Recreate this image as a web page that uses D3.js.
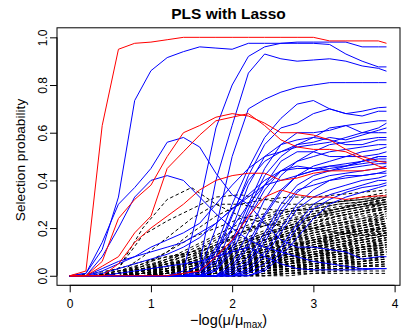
<!DOCTYPE html>
<html>
<head>
<meta charset="utf-8">
<script src="https://cdn.jsdelivr.net/npm/d3@7"></script>
<style>
  body { margin: 0; background: #fff; }
  svg { display: block; font-family: "Liberation Sans", Arial, sans-serif; }
</style>
</head>
<body>
<script>
// x grid of the paths (-log(mu/mu_max))
const lambda = [0, 0.2, 0.4, 0.6, 0.8, 1.0, 1.2, 1.4, 1.6, 1.8, 2.0, 2.2, 2.4, 2.6, 2.8, 3.0, 3.2, 3.4, 3.6, 3.8, 3.9];
// coarser grid for the noise variables (dashed)
const lambdaNoise = [0, 0.3, 0.6, 0.9, 1.2, 1.5, 1.8, 2.1, 2.4, 2.7, 3.0, 3.3, 3.6, 3.9];

const xTicks = [0, 1, 2, 3, 4];
const yTicks = [0, 0.2, 0.4, 0.6, 0.8, 1.0];

// red paths (on lambda grid)
const redPaths = [
  [0, 0.02, 0.63, 0.95, 0.975, 0.98, 0.99, 1.0, 1.0, 1.0, 1.0, 1.0, 1.0, 1.0, 1.0, 1.0, 0.985, 0.985, 0.985, 0.985, 0.975],
  [0, 0, 0.06, 0.24, 0.32, 0.38, 0.5, 0.6, 0.63, 0.665, 0.68, 0.67, 0.64, 0.6, 0.6, 0.59, 0.57, 0.53, 0.5, 0.48, 0.475],
  [0, 0, 0.04, 0.08, 0.18, 0.25, 0.45, 0.52, 0.59, 0.65, 0.665, 0.68, 0.63, 0.57, 0.54, 0.53, 0.53, 0.52, 0.49, 0.46, 0.45],
  [0, 0, 0, 0.05, 0.14, 0.2, 0.25, 0.3, 0.36, 0.4, 0.42, 0.43, 0.43, 0.4, 0.41, 0.43, 0.44, 0.44, 0.44, 0.45, 0.45],
  [0, 0, 0, 0, 0, 0, 0, 0.01, 0.02, 0.08, 0.15, 0.25, 0.33, 0.36, 0.34, 0.33, 0.33, 0.32, 0.33, 0.335, 0.335]
];

// blue paths (on lambda grid)
const bluePaths = [
  [0, 0.01, 0.11, 0.33, 0.735, 0.86, 0.915, 0.94, 0.96, 0.955, 0.95, 0.975, 0.975, 0.975, 0.975, 0.975, 0.97, 0.93, 0.9, 0.876, 0.876],
  [0, 0, 0, 0, 0, 0, 0, 0.02, 0.3, 0.62, 0.8, 0.92, 0.96, 0.975, 0.98, 0.98, 0.98, 0.98, 0.96, 0.96, 0.96],
  [0, 0, 0, 0, 0, 0, 0, 0, 0.05, 0.4, 0.63, 0.85, 0.93, 0.91, 0.9, 0.905, 0.91, 0.9, 0.88, 0.87, 0.858],
  [0, 0, 0, 0, 0, 0, 0, 0, 0.02, 0.2, 0.5, 0.7, 0.74, 0.77, 0.79, 0.8, 0.81, 0.81, 0.81, 0.81, 0.81],
  [0, 0.01, 0.14, 0.3, 0.37, 0.45, 0.56, 0.58, 0.54, 0.43, 0.34, 0.3, 0.22, 0.15, 0.12, 0.12, 0.11, 0.1, 0.07, 0.08, 0.08],
  [0, 0, 0.08, 0.2, 0.33, 0.4, 0.42, 0.4, 0.33, 0.26, 0.2, 0.15, 0.12, 0.1, 0.08, 0.06, 0.05, 0.04, 0.03, 0.03, 0.03],
  [0, 0, 0.03, 0.06, 0.08, 0.1, 0.12, 0.14, 0.18, 0.22, 0.28, 0.34, 0.4, 0.44, 0.45, 0.45, 0.46, 0.47, 0.48, 0.49, 0.49],
  [0, 0, 0.02, 0.05, 0.08, 0.12, 0.15, 0.18, 0.22, 0.3, 0.38, 0.45, 0.5, 0.52, 0.54, 0.55, 0.56, 0.58, 0.6, 0.6, 0.6],
  [0, 0, 0, 0, 0, 0, 0, 0, 0.02, 0.12, 0.3, 0.45, 0.58, 0.66, 0.72, 0.735, 0.7, 0.68, 0.69, 0.705, 0.707],
  [0, 0, 0, 0, 0, 0, 0, 0, 0, 0.08, 0.25, 0.42, 0.55, 0.62, 0.64, 0.68, 0.7, 0.68, 0.67, 0.69, 0.69],
  [0, 0, 0, 0, 0, 0, 0, 0, 0, 0.03, 0.15, 0.3, 0.45, 0.55, 0.6, 0.6, 0.61, 0.63, 0.64, 0.65, 0.65],
  [0, 0, 0, 0, 0, 0, 0, 0, 0, 0.05, 0.2, 0.38, 0.5, 0.55, 0.57, 0.58, 0.62, 0.63, 0.6, 0.62, 0.64],
  [0, 0, 0, 0, 0, 0, 0, 0, 0.01, 0.1, 0.26, 0.4, 0.48, 0.52, 0.55, 0.56, 0.58, 0.57, 0.59, 0.61, 0.62],
  [0, 0, 0, 0, 0, 0, 0, 0, 0, 0.02, 0.12, 0.28, 0.42, 0.5, 0.55, 0.58, 0.57, 0.55, 0.55, 0.57, 0.57],
  [0, 0, 0, 0, 0, 0, 0, 0, 0, 0, 0.06, 0.18, 0.32, 0.42, 0.48, 0.5, 0.52, 0.53, 0.54, 0.55, 0.55],
  [0, 0, 0, 0, 0, 0, 0, 0, 0, 0, 0.03, 0.12, 0.25, 0.35, 0.42, 0.46, 0.48, 0.5, 0.5, 0.51, 0.52],
  [0, 0, 0, 0, 0, 0, 0, 0, 0, 0.02, 0.1, 0.24, 0.36, 0.44, 0.46, 0.45, 0.44, 0.46, 0.48, 0.5, 0.5],
  [0, 0, 0, 0, 0, 0, 0, 0, 0, 0, 0.04, 0.14, 0.26, 0.36, 0.42, 0.44, 0.46, 0.46, 0.47, 0.48, 0.48],
  [0, 0, 0, 0, 0, 0, 0, 0, 0, 0, 0.02, 0.08, 0.18, 0.3, 0.38, 0.42, 0.44, 0.45, 0.46, 0.47, 0.47],
  [0, 0, 0, 0, 0, 0, 0, 0, 0, 0, 0, 0.05, 0.14, 0.26, 0.35, 0.4, 0.42, 0.43, 0.44, 0.45, 0.46],
  [0, 0, 0, 0, 0, 0, 0, 0, 0, 0, 0.01, 0.06, 0.16, 0.28, 0.36, 0.38, 0.4, 0.42, 0.42, 0.43, 0.44],
  [0, 0, 0, 0, 0, 0, 0, 0, 0, 0, 0, 0.03, 0.1, 0.2, 0.3, 0.36, 0.4, 0.41, 0.42, 0.43, 0.43],
  [0, 0, 0, 0, 0, 0, 0, 0, 0, 0, 0, 0.02, 0.08, 0.18, 0.28, 0.33, 0.36, 0.38, 0.4, 0.41, 0.42],
  [0, 0, 0, 0, 0, 0, 0, 0, 0, 0, 0, 0.01, 0.05, 0.12, 0.22, 0.3, 0.34, 0.36, 0.38, 0.4, 0.4],
  [0, 0, 0, 0, 0, 0, 0, 0, 0, 0, 0, 0, 0.03, 0.1, 0.2, 0.28, 0.32, 0.35, 0.37, 0.38, 0.39],
  [0, 0, 0, 0, 0, 0, 0, 0, 0, 0, 0, 0, 0.02, 0.08, 0.16, 0.24, 0.3, 0.33, 0.35, 0.37, 0.38],
  [0, 0, 0.01, 0.03, 0.05, 0.07, 0.09, 0.12, 0.16, 0.22, 0.28, 0.33, 0.38, 0.4, 0.42, 0.44, 0.45, 0.46, 0.48, 0.5, 0.5],
  [0, 0, 0, 0.01, 0.02, 0.03, 0.04, 0.05, 0.06, 0.08, 0.1, 0.12, 0.08, 0.05, 0.03, 0.025, 0.025, 0.025, 0.025, 0.03, 0.03],
  [0, 0, 0, 0, 0, 0, 0, 0.01, 0.04, 0.1, 0.2, 0.3, 0.38, 0.44, 0.48, 0.52, 0.55, 0.56, 0.57, 0.58, 0.58],
  [0, 0, 0, 0, 0, 0, 0, 0, 0.02, 0.06, 0.14, 0.26, 0.38, 0.48, 0.52, 0.52, 0.5, 0.5, 0.52, 0.53, 0.54]
];

// black dashed paths (on lambdaNoise grid)
const blackPaths = [
  [0, 0, 0.03, 0.2, 0.32, 0.37, 0.3, 0.25, 0.22, 0.2, 0.2, 0.18, 0.17, 0.17],
  [0, 0, 0.03, 0.17, 0.23, 0.28, 0.33, 0.34, 0.32, 0.3, 0.3, 0.31, 0.32, 0.33],
  [0, 0, 0.01, 0.08, 0.16, 0.24, 0.3, 0.3, 0.28, 0.27, 0.28, 0.3, 0.31, 0.32],
  [0, 0, 0, 0.04, 0.1, 0.18, 0.25, 0.3, 0.32, 0.33, 0.33, 0.34, 0.35, 0.36],
  [0, 0, 0.01, 0.05, 0.1, 0.16, 0.2, 0.24, 0.26, 0.28, 0.3, 0.31, 0.32, 0.34],
  [0, 0, 0, 0.03, 0.07, 0.12, 0.17, 0.22, 0.25, 0.27, 0.28, 0.3, 0.31, 0.33],
  [0, 0, 0, 0.02, 0.05, 0.1, 0.15, 0.2, 0.24, 0.27, 0.29, 0.31, 0.33, 0.35],
  [0, 0, 0, 0.01, 0.04, 0.08, 0.13, 0.18, 0.22, 0.25, 0.27, 0.28, 0.3, 0.32],
  [0, 0, 0, 0.01, 0.03, 0.07, 0.11, 0.15, 0.19, 0.23, 0.26, 0.28, 0.3, 0.31],
  [0, 0, 0, 0, 0.02, 0.06, 0.1, 0.14, 0.18, 0.21, 0.24, 0.26, 0.28, 0.3],
  [0, 0, 0, 0, 0.02, 0.05, 0.09, 0.13, 0.17, 0.2, 0.22, 0.25, 0.27, 0.29],
  [0, 0, 0, 0, 0.01, 0.04, 0.08, 0.12, 0.15, 0.19, 0.21, 0.23, 0.26, 0.28],
  [0, 0, 0, 0, 0.01, 0.03, 0.07, 0.11, 0.14, 0.17, 0.2, 0.22, 0.24, 0.27],
  [0, 0, 0, 0, 0.01, 0.03, 0.06, 0.1, 0.13, 0.16, 0.19, 0.21, 0.23, 0.26],
  [0, 0, 0, 0, 0, 0.02, 0.05, 0.09, 0.12, 0.15, 0.18, 0.2, 0.22, 0.25],
  [0, 0, 0, 0, 0, 0.02, 0.05, 0.08, 0.11, 0.14, 0.17, 0.19, 0.21, 0.24],
  [0, 0, 0, 0, 0, 0.02, 0.04, 0.07, 0.1, 0.13, 0.16, 0.18, 0.21, 0.23],
  [0, 0, 0, 0, 0, 0.01, 0.04, 0.07, 0.1, 0.12, 0.15, 0.17, 0.2, 0.22],
  [0, 0, 0, 0, 0, 0.01, 0.03, 0.06, 0.09, 0.12, 0.14, 0.17, 0.19, 0.21],
  [0, 0, 0, 0, 0, 0.01, 0.03, 0.06, 0.08, 0.11, 0.14, 0.16, 0.18, 0.2],
  [0, 0, 0, 0, 0, 0.01, 0.03, 0.05, 0.08, 0.1, 0.13, 0.15, 0.17, 0.19],
  [0, 0, 0, 0, 0, 0.01, 0.02, 0.05, 0.07, 0.1, 0.12, 0.14, 0.16, 0.18],
  [0, 0, 0, 0, 0, 0, 0.02, 0.04, 0.07, 0.09, 0.12, 0.14, 0.16, 0.18],
  [0, 0, 0, 0, 0, 0, 0.02, 0.04, 0.06, 0.09, 0.11, 0.13, 0.15, 0.17],
  [0, 0, 0, 0, 0, 0, 0.02, 0.04, 0.06, 0.08, 0.1, 0.12, 0.14, 0.16],
  [0, 0, 0, 0, 0, 0, 0.01, 0.03, 0.05, 0.08, 0.1, 0.12, 0.14, 0.16],
  [0, 0, 0, 0, 0, 0, 0.01, 0.03, 0.05, 0.07, 0.09, 0.11, 0.13, 0.15],
  [0, 0, 0, 0, 0, 0, 0.01, 0.03, 0.05, 0.07, 0.09, 0.1, 0.12, 0.14],
  [0, 0, 0, 0, 0, 0, 0.01, 0.02, 0.04, 0.06, 0.08, 0.1, 0.12, 0.14],
  [0, 0, 0, 0, 0, 0, 0.01, 0.02, 0.04, 0.06, 0.08, 0.09, 0.11, 0.13],
  [0, 0, 0, 0, 0, 0, 0.01, 0.02, 0.04, 0.05, 0.07, 0.09, 0.11, 0.12],
  [0, 0, 0, 0, 0, 0, 0, 0.02, 0.03, 0.05, 0.07, 0.08, 0.1, 0.12],
  [0, 0, 0, 0, 0, 0, 0, 0.02, 0.03, 0.05, 0.06, 0.08, 0.1, 0.11],
  [0, 0, 0, 0, 0, 0, 0, 0.01, 0.03, 0.04, 0.06, 0.07, 0.09, 0.1],
  [0, 0, 0, 0, 0, 0, 0, 0.01, 0.02, 0.04, 0.05, 0.07, 0.08, 0.1],
  [0, 0, 0, 0, 0, 0, 0, 0.01, 0.02, 0.03, 0.05, 0.06, 0.08, 0.09],
  [0, 0, 0, 0, 0, 0, 0, 0.01, 0.02, 0.03, 0.04, 0.06, 0.07, 0.08],
  [0, 0, 0, 0, 0, 0, 0, 0.01, 0.02, 0.03, 0.04, 0.05, 0.06, 0.08],
  [0, 0, 0, 0, 0, 0, 0, 0, 0.01, 0.02, 0.03, 0.05, 0.06, 0.07],
  [0, 0, 0, 0, 0, 0, 0, 0, 0.01, 0.02, 0.03, 0.04, 0.05, 0.06],
  [0, 0, 0, 0, 0, 0, 0, 0, 0.01, 0.02, 0.03, 0.03, 0.04, 0.05],
  [0, 0, 0, 0, 0, 0, 0, 0, 0.01, 0.01, 0.02, 0.03, 0.04, 0.04],
  [0, 0, 0, 0, 0, 0, 0, 0, 0, 0.01, 0.02, 0.02, 0.03, 0.03],
  [0, 0, 0, 0, 0, 0, 0, 0, 0, 0.01, 0.01, 0.02, 0.02, 0.02],
  [0, 0, 0.02, 0.05, 0.08, 0.1, 0.12, 0.11, 0.13, 0.15, 0.16, 0.18, 0.19, 0.2],
  [0, 0, 0.01, 0.03, 0.06, 0.09, 0.13, 0.16, 0.15, 0.17, 0.2, 0.22, 0.23, 0.24],
  [0, 0, 0.01, 0.02, 0.04, 0.07, 0.12, 0.18, 0.23, 0.26, 0.27, 0.29, 0.3, 0.3],
  [0, 0, 0, 0.02, 0.06, 0.11, 0.16, 0.2, 0.21, 0.22, 0.25, 0.27, 0.29, 0.31],
  [0, 0, 0, 0.01, 0.03, 0.05, 0.08, 0.1, 0.14, 0.18, 0.22, 0.25, 0.27, 0.28],
  [0, 0, 0, 0.01, 0.02, 0.04, 0.06, 0.09, 0.12, 0.16, 0.2, 0.23, 0.25, 0.27],
  [0, 0.01, 0.03, 0.06, 0.08, 0.09, 0.1, 0.1, 0.11, 0.13, 0.14, 0.15, 0.17, 0.18],
  [0, 0, 0.01, 0.02, 0.03, 0.05, 0.06, 0.08, 0.1, 0.11, 0.12, 0.14, 0.15, 0.17],
  [0, 0, 0, 0.01, 0.02, 0.03, 0.05, 0.07, 0.09, 0.12, 0.15, 0.18, 0.2, 0.22],
  [0, 0, 0, 0, 0.01, 0.02, 0.04, 0.07, 0.11, 0.15, 0.18, 0.2, 0.21, 0.22],
  [0, 0, 0, 0, 0.01, 0.02, 0.03, 0.05, 0.08, 0.11, 0.14, 0.17, 0.19, 0.21],
  [0, 0, 0, 0, 0, 0.01, 0.02, 0.04, 0.06, 0.09, 0.12, 0.15, 0.18, 0.2],
  [0, 0, 0, 0, 0, 0, 0.01, 0.03, 0.06, 0.1, 0.13, 0.16, 0.18, 0.19],
  [0, 0, 0, 0, 0, 0, 0.01, 0.02, 0.05, 0.08, 0.11, 0.13, 0.15, 0.17],
  [0, 0, 0, 0, 0, 0, 0, 0.02, 0.04, 0.07, 0.09, 0.12, 0.14, 0.15],
  [0, 0, 0, 0, 0, 0, 0, 0.01, 0.03, 0.05, 0.08, 0.1, 0.12, 0.13],
  [0, 0, 0, 0, 0, 0, 0, 0, 0, 0, 0.01, 0.01, 0.01, 0.01],
  [0, 0, 0.01, 0.02, 0.04, 0.06, 0.09, 0.12, 0.15, 0.18, 0.2, 0.22, 0.24, 0.26],
  [0, 0, 0, 0.01, 0.03, 0.05, 0.08, 0.11, 0.14, 0.17, 0.19, 0.21, 0.23, 0.25],
  [0, 0, 0, 0.01, 0.02, 0.04, 0.07, 0.1, 0.13, 0.16, 0.18, 0.2, 0.22, 0.24],
  [0, 0, 0, 0, 0.02, 0.04, 0.06, 0.09, 0.12, 0.15, 0.17, 0.19, 0.21, 0.23],
  [0, 0, 0, 0, 0.01, 0.03, 0.06, 0.08, 0.11, 0.14, 0.16, 0.18, 0.2, 0.22],
  [0, 0, 0, 0, 0.01, 0.03, 0.05, 0.08, 0.1, 0.13, 0.15, 0.17, 0.19, 0.21],
  [0, 0, 0, 0, 0.01, 0.02, 0.05, 0.07, 0.1, 0.12, 0.14, 0.16, 0.18, 0.2],
  [0, 0, 0, 0, 0.01, 0.02, 0.04, 0.07, 0.09, 0.11, 0.13, 0.15, 0.17, 0.19],
  [0, 0, 0, 0, 0, 0.02, 0.04, 0.06, 0.08, 0.1, 0.12, 0.14, 0.16, 0.18],
  [0, 0, 0, 0, 0, 0.02, 0.03, 0.06, 0.08, 0.1, 0.12, 0.13, 0.15, 0.17],
  [0, 0, 0, 0, 0, 0.01, 0.03, 0.05, 0.07, 0.09, 0.11, 0.13, 0.14, 0.16],
  [0, 0, 0, 0, 0, 0.01, 0.03, 0.05, 0.07, 0.08, 0.1, 0.12, 0.13, 0.15],
  [0, 0, 0, 0, 0, 0.01, 0.02, 0.04, 0.06, 0.08, 0.1, 0.11, 0.13, 0.14],
  [0, 0, 0, 0, 0, 0.01, 0.02, 0.04, 0.06, 0.07, 0.09, 0.1, 0.12, 0.13],
  [0, 0, 0, 0, 0, 0.01, 0.02, 0.04, 0.05, 0.07, 0.08, 0.1, 0.11, 0.12],
  [0, 0, 0, 0, 0, 0.01, 0.02, 0.03, 0.05, 0.06, 0.08, 0.09, 0.1, 0.11],
  [0, 0, 0, 0, 0, 0, 0.02, 0.03, 0.04, 0.06, 0.07, 0.08, 0.09, 0.1],
  [0, 0, 0, 0, 0, 0, 0.01, 0.03, 0.04, 0.05, 0.06, 0.07, 0.08, 0.09],
  [0, 0, 0, 0, 0, 0, 0.01, 0.02, 0.03, 0.04, 0.05, 0.06, 0.07, 0.08],
  [0, 0, 0, 0, 0, 0, 0.01, 0.02, 0.03, 0.04, 0.05, 0.05, 0.06, 0.07],
  [0, 0, 0, 0, 0, 0, 0.01, 0.02, 0.02, 0.03, 0.04, 0.05, 0.05, 0.06],
  [0, 0, 0, 0, 0, 0, 0, 0.01, 0.02, 0.03, 0.03, 0.04, 0.04, 0.05],
  [0, 0, 0.01, 0.03, 0.05, 0.07, 0.1, 0.13, 0.17, 0.2, 0.23, 0.25, 0.27, 0.29],
  [0, 0, 0.01, 0.02, 0.05, 0.08, 0.11, 0.14, 0.18, 0.21, 0.24, 0.27, 0.29, 0.31],
  [0, 0, 0, 0.02, 0.04, 0.07, 0.1, 0.14, 0.17, 0.21, 0.25, 0.28, 0.3, 0.32],
  [0, 0, 0, 0.01, 0.03, 0.06, 0.09, 0.13, 0.17, 0.2, 0.24, 0.26, 0.28, 0.3],
  [0, 0, 0, 0.01, 0.03, 0.05, 0.08, 0.12, 0.16, 0.19, 0.22, 0.25, 0.27, 0.29],
  [0, 0, 0, 0, 0.02, 0.05, 0.08, 0.11, 0.15, 0.18, 0.21, 0.24, 0.26, 0.28],
  [0, 0, 0.02, 0.04, 0.06, 0.09, 0.13, 0.17, 0.21, 0.24, 0.26, 0.28, 0.31, 0.33],
  [0, 0, 0.01, 0.04, 0.07, 0.1, 0.14, 0.18, 0.21, 0.23, 0.25, 0.27, 0.29, 0.3],
  [0, 0, 0.01, 0.03, 0.05, 0.06, 0.07, 0.09, 0.11, 0.13, 0.15, 0.17, 0.19, 0.2],
  [0, 0, 0.02, 0.03, 0.04, 0.05, 0.06, 0.07, 0.08, 0.09, 0.1, 0.11, 0.12, 0.13],
  [0, 0, 0.01, 0.02, 0.03, 0.04, 0.05, 0.06, 0.07, 0.08, 0.09, 0.1, 0.11, 0.12],
  [0, 0, 0.01, 0.01, 0.02, 0.03, 0.04, 0.05, 0.06, 0.07, 0.08, 0.09, 0.1, 0.1],
  [0, 0, 0, 0.01, 0.02, 0.02, 0.03, 0.04, 0.05, 0.06, 0.07, 0.08, 0.08, 0.09],
  [0, 0, 0, 0.01, 0.01, 0.02, 0.03, 0.03, 0.04, 0.05, 0.06, 0.06, 0.07, 0.08],
  [0, 0, 0, 0, 0.01, 0.01, 0.02, 0.03, 0.04, 0.04, 0.05, 0.06, 0.06, 0.07],
  [0, 0, 0, 0, 0.01, 0.01, 0.02, 0.02, 0.03, 0.04, 0.04, 0.05, 0.05, 0.06],
  [0, 0, 0, 0, 0, 0.01, 0.01, 0.02, 0.02, 0.03, 0.03, 0.04, 0.04, 0.04],
  [0, 0, 0, 0, 0, 0, 0.01, 0.01, 0.02, 0.02, 0.02, 0.03, 0.03, 0.03]
];

const width = 415;
const height = 336;
const box = { left: 57, right: 400, top: 27.8, bottom: 285.3 };

const xMax = 3.91;
const xPad = 0.04 * xMax;

const svg = d3.select("body")
    .append("svg")
    .attr("width", width)
    .attr("height", height);

const x = d3.scaleLinear()
    .domain([-xPad, xMax + xPad])
    .range([box.left, box.right]);
const y = d3.scaleLinear()
    .domain([-0.04, 1.04])
    .range([box.bottom, box.top]);

const line = grid => d3.line()
    .x((d, i) => x(grid[i]))
    .y(d => y(d));

// noise variables first, then blue, then red on top
svg.append("g")
    .selectAll("path")
    .data(blackPaths)
    .enter()
    .append("path")
    .attr("d", line(lambdaNoise))
    .attr("fill", "none")
    .attr("stroke", "#000")
    .attr("stroke-width", 1)
    .attr("stroke-dasharray", "3.5,2.5");

svg.append("g")
    .selectAll("path")
    .data(bluePaths)
    .enter()
    .append("path")
    .attr("d", line(lambda))
    .attr("fill", "none")
    .attr("stroke", "#0000ff")
    .attr("stroke-width", 1);

svg.append("g")
    .selectAll("path")
    .data(redPaths)
    .enter()
    .append("path")
    .attr("d", line(lambda))
    .attr("fill", "none")
    .attr("stroke", "#ff0000")
    .attr("stroke-width", 1);

// box
svg.append("rect")
    .attr("x", box.left)
    .attr("y", box.top)
    .attr("width", box.right - box.left)
    .attr("height", box.bottom - box.top)
    .attr("fill", "none")
    .attr("stroke", "#000")
    .attr("stroke-width", 1);

// axes
const xAxis = svg.append("g")
    .attr("transform", `translate(0, ${box.bottom})`)
    .call(d3.axisBottom(x).tickValues(xTicks).tickSize(7).tickPadding(7.5).tickFormat(d3.format("d")));
xAxis.select(".domain")
    .attr("d", `M${x(0)},0H${x(4)}`);

const yAxis = svg.append("g")
    .attr("transform", `translate(${box.left}, 0)`)
    .call(d3.axisLeft(y).tickValues(yTicks).tickSize(7).tickFormat(d3.format(".1f")));
yAxis.select(".domain")
    .attr("d", `M0,${y(0)}V${y(1)}`);
yAxis.selectAll("text")
    .attr("x", 0)
    .attr("dy", 0)
    .attr("text-anchor", "middle")
    .attr("transform", "translate(-10.5,0) rotate(-90)");

svg.selectAll(".tick text")
    .attr("font-size", 12)
    .attr("font-family", "Liberation Sans, Arial, sans-serif")
    .attr("fill", "#000");

// titles
svg.append("text")
    .attr("x", (box.left + box.right) / 2)
    .attr("y", 19)
    .attr("text-anchor", "middle")
    .attr("font-size", 15.5)
    .attr("font-weight", "bold")
    .text("PLS with Lasso");

const xl = svg.append("text")
    .attr("x", (box.left + box.right) / 2)
    .attr("y", 325)
    .attr("text-anchor", "middle")
    .attr("font-size", 14.5);
xl.append("tspan").text("\u2212log(\u03bc/\u03bc");
xl.append("tspan").attr("font-size", 10).attr("dy", 3).text("max");
xl.append("tspan").attr("dy", -3).text(")");

svg.append("text")
    .attr("transform", `translate(25, 160) rotate(-90)`)
    .attr("text-anchor", "middle")
    .attr("font-size", 13.7)
    .text("Selection probability");
</script>
</body>
</html>
